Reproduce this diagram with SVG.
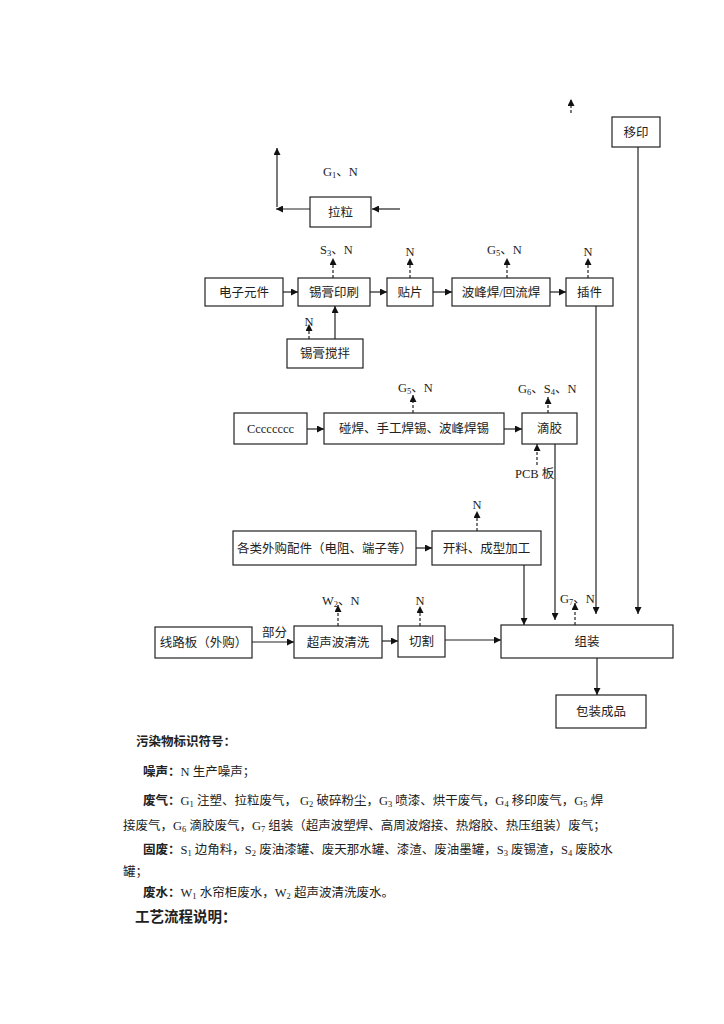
<svg xmlns="http://www.w3.org/2000/svg" width="724" height="1024" viewBox="0 0 724 1024">
<style>
.box{fill:#fff;stroke:#222;stroke-width:1.2}
.t{font-family:"Liberation Serif","Noto Sans CJK SC",serif;font-size:12.5px;fill:#222}
.c{text-anchor:middle}
.ln{fill:none;stroke:#222;stroke-width:1.2}
.ds{fill:none;stroke:#222;stroke-width:1.2;stroke-dasharray:3,2}
.b{font-weight:bold}
.sub{font-size:8.5px}
</style>
<defs>
<marker id="ah" viewBox="0 0 10 10" refX="10" refY="5" markerWidth="8" markerHeight="7" markerUnits="userSpaceOnUse" orient="auto"><path d="M0,0 L10,5 L0,10 z" fill="#111"/></marker>
</defs>
<rect width="724" height="1024" fill="#fff"/>

<g id="n_yiyin"><rect class="box" x="612" y="117" width="48" height="30"/><text class="t c" x="636" y="136.5">移印</text></g>
<g id="n_lali"><rect class="box" x="310" y="197" width="61" height="30"/><text class="t c" x="340.5" y="216.5">拉粒</text></g>
<g id="n_dzyj"><rect class="box" x="205" y="278" width="78" height="28"/><text class="t c" x="244" y="296.5">电子元件</text></g>
<g id="n_xgys"><rect class="box" x="298" y="278" width="72" height="28"/><text class="t c" x="334" y="296.5">锡膏印刷</text></g>
<g id="n_tp"><rect class="box" x="387" y="278" width="46" height="28"/><text class="t c" x="410" y="296.5">贴片</text></g>
<g id="n_bfh"><rect class="box" x="452" y="278" width="98" height="28"/><text class="t c" x="501" y="296.5">波峰焊/回流焊</text></g>
<g id="n_cj"><rect class="box" x="566" y="278" width="47" height="28"/><text class="t c" x="589.5" y="296.5">插件</text></g>
<g id="n_xgjb"><rect class="box" x="287" y="339" width="76" height="29"/><text class="t c" x="325" y="358">锡膏搅拌</text></g>
<g id="n_ccc"><rect class="box" x="234" y="413" width="73" height="31"/><text class="t c" x="270.5" y="433">Cccccccc</text></g>
<g id="n_ph"><rect class="box" x="324" y="413" width="180" height="31"/><text class="t c" x="414" y="433">碰焊、手工焊锡、波峰焊锡</text></g>
<g id="n_dj"><rect class="box" x="522" y="413" width="55" height="31"/><text class="t c" x="549.5" y="433">滴胶</text></g>
<g id="n_gl"><rect class="box" x="233" y="531" width="183" height="34"/><text class="t c" x="324.5" y="552.5">各类外购配件（电阻、端子等）</text></g>
<g id="n_kl"><rect class="box" x="432" y="531" width="109" height="34"/><text class="t c" x="486.5" y="552.5">开料、成型加工</text></g>
<g id="n_xlb"><rect class="box" x="155" y="627" width="97" height="31"/><text class="t c" x="203.5" y="647">线路板（外购）</text></g>
<g id="n_csb"><rect class="box" x="294" y="626" width="88" height="32"/><text class="t c" x="338" y="646.5">超声波清洗</text></g>
<g id="n_qg"><rect class="box" x="398" y="626" width="47" height="31"/><text class="t c" x="421.5" y="646">切割</text></g>
<g id="n_zz"><rect class="box" x="501" y="625" width="172" height="33"/><text class="t c" x="587" y="646">组装</text></g>
<g id="n_bz"><rect class="box" x="556" y="695" width="90" height="33"/><text class="t c" x="601" y="716">包装成品</text></g>

<g id="connectors">
<line class="ds" x1="571" y1="113" x2="571" y2="99" marker-end="url(#ah)"/>
<line class="ln" x1="638" y1="147" x2="638" y2="614" marker-end="url(#ah)"/>
<line class="ln" x1="400" y1="209" x2="372" y2="209" marker-end="url(#ah)"/>
<line class="ln" x1="310" y1="209" x2="276" y2="209" marker-end="url(#ah)"/>
<line class="ln" x1="277" y1="207" x2="277" y2="148" marker-end="url(#ah)"/>
<line class="ln" x1="283" y1="292" x2="298" y2="292" marker-end="url(#ah)"/>
<line class="ln" x1="370" y1="292" x2="387" y2="292" marker-end="url(#ah)"/>
<line class="ln" x1="433" y1="292" x2="452" y2="292" marker-end="url(#ah)"/>
<line class="ln" x1="550" y1="292" x2="566" y2="292" marker-end="url(#ah)"/>
<line class="ln" x1="335" y1="339" x2="335" y2="306" marker-end="url(#ah)"/>
<line class="ds" x1="333" y1="278" x2="333" y2="258" marker-end="url(#ah)"/>
<line class="ds" x1="410" y1="278" x2="410" y2="258" marker-end="url(#ah)"/>
<line class="ds" x1="507" y1="278" x2="507" y2="258" marker-end="url(#ah)"/>
<line class="ds" x1="588" y1="278" x2="588" y2="258" marker-end="url(#ah)"/>
<line class="ds" x1="309" y1="339" x2="309" y2="324" marker-end="url(#ah)"/>
<line class="ln" x1="596" y1="306" x2="596" y2="614" marker-end="url(#ah)"/>
<line class="ln" x1="307" y1="429" x2="324" y2="429" marker-end="url(#ah)"/>
<line class="ln" x1="504" y1="429" x2="522" y2="429" marker-end="url(#ah)"/>
<line class="ds" x1="413" y1="413" x2="413" y2="395" marker-end="url(#ah)"/>
<line class="ds" x1="548" y1="413" x2="548" y2="397" marker-end="url(#ah)"/>
<line class="ds" x1="537" y1="465" x2="537" y2="444" marker-end="url(#ah)"/>
<line class="ln" x1="555" y1="444" x2="555" y2="620" marker-end="url(#ah)"/>
<line class="ln" x1="416" y1="548" x2="432" y2="548" marker-end="url(#ah)"/>
<line class="ds" x1="477" y1="531" x2="477" y2="511" marker-end="url(#ah)"/>
<line class="ln" x1="524" y1="565" x2="524" y2="625" marker-end="url(#ah)"/>
<line class="ln" x1="252" y1="642" x2="294" y2="642" marker-end="url(#ah)"/>
<line class="ln" x1="382" y1="641" x2="398" y2="641" marker-end="url(#ah)"/>
<line class="ln" x1="445" y1="640" x2="501" y2="640" marker-end="url(#ah)"/>
<line class="ds" x1="338" y1="626" x2="338" y2="605" marker-end="url(#ah)"/>
<line class="ds" x1="420" y1="626" x2="420" y2="606" marker-end="url(#ah)"/>
<line class="ds" x1="575" y1="625" x2="575" y2="603" marker-end="url(#ah)"/>
<line class="ln" x1="597" y1="658" x2="597" y2="695" marker-end="url(#ah)"/>
</g>

<g id="labels">
<text class="t" x="323" y="176">G<tspan class="sub" dy="2">1</tspan><tspan dy="-2">、N</tspan></text>
<text class="t" x="320" y="254">S<tspan class="sub" dy="2">3</tspan><tspan dy="-2">、N</tspan></text>
<text class="t c" x="410" y="256">N</text>
<text class="t" x="487" y="254">G<tspan class="sub" dy="2">5</tspan><tspan dy="-2">、N</tspan></text>
<text class="t c" x="588" y="256">N</text>
<text class="t c" x="309" y="326">N</text>
<text class="t" x="398" y="392">G<tspan class="sub" dy="2">5</tspan><tspan dy="-2">、N</tspan></text>
<text class="t" x="518" y="393">G<tspan class="sub" dy="2">6</tspan><tspan dy="-2">、S</tspan><tspan class="sub" dy="2">4</tspan><tspan dy="-2">、N</tspan></text>
<text class="t" x="515" y="478">PCB 板</text>
<text class="t c" x="477" y="509">N</text>
<text class="t" x="322" y="605">W<tspan class="sub" dy="2">2</tspan><tspan dy="-2">、N</tspan></text>
<text class="t c" x="420" y="605">N</text>
<text class="t" x="560" y="603">G<tspan class="sub" dy="2">7</tspan><tspan dy="-2">、N</tspan></text>
<text class="t" x="262" y="637">部分</text>
</g>

<g id="legend">
<text class="t b" x="136" y="746">污染物标识符号：</text>
<text class="t" x="143" y="776"><tspan class="b">噪声：</tspan>N 生产噪声；</text>
<text class="t" x="143" y="805"><tspan class="b">废气：</tspan>G<tspan class="sub" dy="2">1</tspan><tspan dy="-2"> 注塑、拉粒废气，  G</tspan><tspan class="sub" dy="2">2</tspan><tspan dy="-2"> 破碎粉尘，G</tspan><tspan class="sub" dy="2">3</tspan><tspan dy="-2"> 喷漆、烘干废气，G</tspan><tspan class="sub" dy="2">4</tspan><tspan dy="-2"> 移印废气，G</tspan><tspan class="sub" dy="2">5</tspan><tspan dy="-2"> 焊</tspan></text>
<text class="t" x="123" y="830">接废气，G<tspan class="sub" dy="2">6</tspan><tspan dy="-2"> 滴胶废气，G</tspan><tspan class="sub" dy="2">7</tspan><tspan dy="-2"> 组装（超声波塑焊、高周波熔接、热熔胶、热压组装）废气；</tspan></text>
<text class="t" x="143" y="854"><tspan class="b">固废：</tspan>S<tspan class="sub" dy="2">1</tspan><tspan dy="-2"> 边角料，S</tspan><tspan class="sub" dy="2">2</tspan><tspan dy="-2"> 废油漆罐、废天那水罐、漆渣、废油墨罐，S</tspan><tspan class="sub" dy="2">3</tspan><tspan dy="-2"> 废锡渣，S</tspan><tspan class="sub" dy="2">4</tspan><tspan dy="-2"> 废胶水</tspan></text>
<text class="t" x="123" y="876">罐；</text>
<text class="t" x="143" y="897"><tspan class="b">废水：</tspan>W<tspan class="sub" dy="2">1</tspan><tspan dy="-2"> 水帘柜废水，W</tspan><tspan class="sub" dy="2">2</tspan><tspan dy="-2"> 超声波清洗废水。</tspan></text>
<text class="t b" x="135" y="922" style="font-size:14.5px">工艺流程说明：</text>
</g>
</svg>
